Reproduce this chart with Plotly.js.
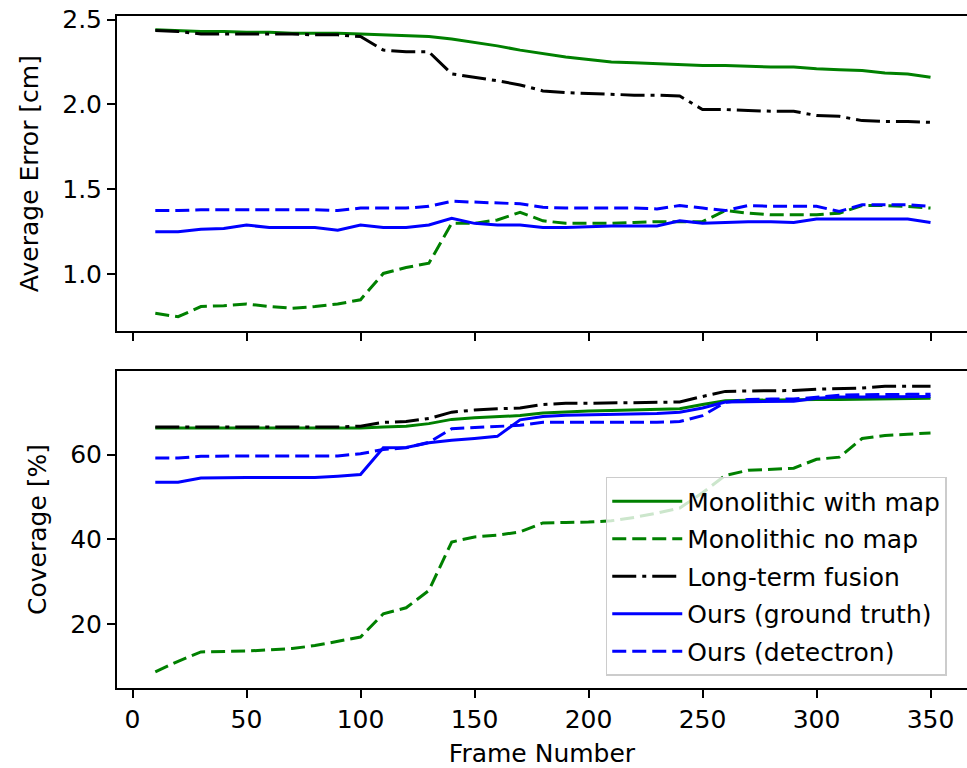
<!DOCTYPE html>
<html>
<head>
<meta charset="utf-8">
<script src="https://cdn.plot.ly/plotly-3.0.1.min.js"></script>
<style>html,body{margin:0;padding:0;background:#fff;}#chart{width:967px;height:768px;}</style>
</head>
<body>
<div id="chart"></div>
<script>
const frames = [10,20,30,40,50,60,70,80,90,100,110,120,130,140,150,160,170,180,190,200,210,220,230,240,250,260,270,280,290,300,310,320,330,340,350];

// Top panel: Average Error [cm]
const errMonoMap   = [2.44,2.435,2.43,2.43,2.425,2.425,2.42,2.42,2.42,2.415,2.41,2.405,2.40,2.385,2.365,2.345,2.32,2.30,2.28,2.265,2.25,2.245,2.24,2.235,2.23,2.23,2.225,2.22,2.22,2.21,2.205,2.20,2.185,2.18,2.16];
const errMonoNoMap = [0.77,0.75,0.81,0.815,0.825,0.81,0.80,0.81,0.825,0.85,1.005,1.04,1.065,1.30,1.30,1.32,1.365,1.315,1.30,1.30,1.30,1.305,1.31,1.31,1.31,1.375,1.36,1.35,1.35,1.35,1.36,1.405,1.405,1.40,1.39];
const errFusion    = [2.435,2.43,2.415,2.415,2.415,2.415,2.415,2.41,2.41,2.40,2.32,2.31,2.31,2.18,2.16,2.14,2.115,2.08,2.07,2.065,2.06,2.055,2.055,2.05,1.97,1.97,1.965,1.96,1.96,1.935,1.93,1.905,1.90,1.90,1.895];
const errOursGT    = [1.25,1.25,1.265,1.27,1.29,1.275,1.275,1.275,1.26,1.29,1.275,1.275,1.29,1.33,1.30,1.29,1.29,1.275,1.275,1.28,1.285,1.285,1.285,1.315,1.30,1.305,1.31,1.31,1.305,1.325,1.325,1.325,1.325,1.325,1.305];
const errOursDet   = [1.375,1.375,1.38,1.38,1.38,1.38,1.38,1.38,1.375,1.39,1.39,1.39,1.40,1.43,1.425,1.42,1.415,1.395,1.39,1.39,1.39,1.39,1.385,1.405,1.39,1.375,1.405,1.40,1.40,1.40,1.37,1.41,1.41,1.41,1.40];

// Bottom panel: Coverage [%]
const covMonoMap   = [66.3,66.3,66.3,66.3,66.3,66.3,66.3,66.3,66.3,66.3,66.5,66.7,67.3,68.3,68.7,68.9,69.2,69.8,70.1,70.3,70.4,70.5,70.6,70.8,71.8,72.7,72.8,72.9,72.9,73.0,73.0,73.1,73.2,73.3,73.3];
const covMonoNoMap = [8.8,11.3,13.5,13.6,13.7,14.0,14.3,15.0,16.0,17.0,22.5,23.9,28.0,39.4,40.6,41.0,41.8,43.9,44.0,44.1,44.4,45.2,46.2,47.4,51.0,55.1,56.3,56.5,56.8,58.9,59.4,63.8,64.5,64.8,65.1];
const covFusion    = [66.5,66.5,66.5,66.5,66.5,66.5,66.5,66.5,66.5,66.7,67.6,67.8,68.5,70.0,70.5,70.8,71.0,71.8,72.1,72.1,72.2,72.2,72.3,72.4,73.7,74.9,75.0,75.0,75.1,75.4,75.6,75.7,76.1,76.1,76.1];
const covOursGT    = [53.5,53.5,54.5,54.6,54.6,54.6,54.6,54.6,54.9,55.3,61.6,61.7,62.8,63.4,63.8,64.3,68.2,69.0,69.3,69.4,69.5,69.6,69.7,70.0,71.0,72.4,72.5,72.6,72.6,73.3,73.6,73.6,73.6,73.7,73.7];
const covOursDet   = [59.2,59.2,59.6,59.7,59.7,59.7,59.7,59.7,59.7,60.2,61.2,61.6,62.9,66.1,66.4,66.6,66.9,67.6,67.6,67.6,67.6,67.6,67.6,67.8,69.2,72.3,73.0,73.1,73.1,73.5,74.0,74.1,74.2,74.2,74.2];

const names = ["Monolithic with map","Monolithic no map","Long-term fusion","Ours (ground truth)","Ours (detectron)"];
const colors = ["#008000","#008000","#000000","#0000ff","#0000ff"];
const dashes = ["solid","14px,6px","24px,6px,4px,6px","solid","14px,6px"];
const errSeries = [errMonoMap, errMonoNoMap, errFusion, errOursGT, errOursDet];
const covSeries = [covMonoMap, covMonoNoMap, covFusion, covOursGT, covOursDet];

const traces = [];
errSeries.forEach((ys, i) => {
  traces.push({x: frames, y: ys, xaxis: 'x2', yaxis: 'y', type: 'scatter', mode: 'lines',
    name: names[i], showlegend: false, line: {color: colors[i], width: 3, dash: dashes[i]}});
});
covSeries.forEach((ys, i) => {
  traces.push({x: frames, y: ys, xaxis: 'x', yaxis: 'y2', type: 'scatter', mode: 'lines',
    name: names[i], showlegend: true, legendgroup: 'g' + i, line: {color: colors[i], width: 3, dash: dashes[i]}});
});

const font = {family: 'DejaVu Sans', size: 25, color: '#000'};
const axisCommon = {showgrid: false, zeroline: false, showline: true, linecolor: '#000', linewidth: 2,
  mirror: true, ticks: 'outside', ticklen: 8, tickwidth: 2, tickcolor: '#000', tickfont: font};

const layout = {
  width: 967, height: 768,
  margin: {l: 117, r: 0, t: 16, b: 80, pad: 0},
  paper_bgcolor: '#fff', plot_bgcolor: '#fff',
  font: font,
  showlegend: true,
  xaxis: Object.assign({}, axisCommon, {domain: [0, 1], anchor: 'y2', range: [-6.8, 366],
    tickvals: [0,50,100,150,200,250,300,350], title: {text: 'Frame Number', font: font, standoff: 14}}),
  xaxis2: Object.assign({}, axisCommon, {domain: [0, 1], anchor: 'y', matches: 'x', range: [-6.8, 366],
    tickvals: [0,50,100,150,200,250,300,350], showticklabels: false}),
  yaxis: Object.assign({}, axisCommon, {domain: [0.531, 1], anchor: 'x2', range: [0.665, 2.521],
    tickvals: [1.0,1.5,2.0,2.5], tickformat: '.1f', title: {text: 'Average Error [cm]', font: font, standoff: 16}}),
  yaxis2: Object.assign({}, axisCommon, {domain: [0, 0.4717], anchor: 'x', range: [5.0, 79.7],
    tickvals: [20,40,60], title: {text: 'Coverage [%]', font: font, standoff: 16}}),
  legend: {x: 0.575, y: 0.314, xanchor: 'left', yanchor: 'top', bgcolor: 'rgba(255,255,255,0.8)',
    bordercolor: '#cccccc', borderwidth: 1.5, font: font, tracegroupgap: 2, traceorder: 'grouped',
    itemwidth: 70}
};

Plotly.newPlot('chart', traces, layout, {displayModeBar: false, staticPlot: true});
</script>
</body>
</html>
